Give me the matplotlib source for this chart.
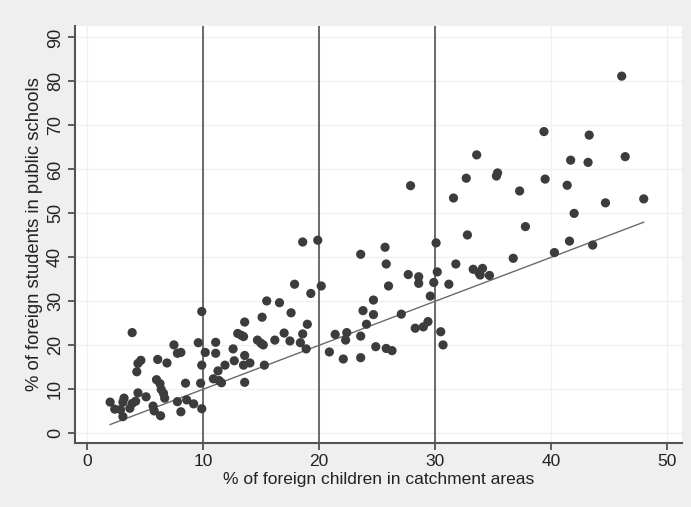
import numpy as np
import matplotlib
matplotlib.use("Agg")
import matplotlib.pyplot as plt

# % of foreign children in catchment areas
pct_children = [
    2.0, 2.4, 2.9, 3.2, 3.1, 3.1, 3.7, 3.9, 4.2, 4.4, 5.1, 3.9, 4.65, 4.4, 4.3,
    5.7, 5.8, 6.35, 6.1, 6.9, 6.0, 6.3, 6.4, 6.6, 6.7, 7.5, 7.8, 8.1, 7.8, 8.1,
    8.6, 9.2, 9.9, 8.5, 9.8, 9.6, 9.9, 9.9,
    10.2, 10.9, 11.4, 11.6, 11.1, 11.1, 11.3, 11.9, 12.6, 12.7, 13.0, 13.3, 13.5,
    13.6, 13.6, 14.05, 13.5, 13.6, 14.7, 15.0, 15.2,
    15.1, 15.5, 16.6, 15.3, 16.2, 17.0, 17.5, 17.6, 17.9, 18.4, 18.6, 18.9, 19.0,
    19.3, 18.6, 19.9,
    20.2, 20.9, 21.4, 22.1, 22.4, 22.3, 23.6, 23.6, 23.6, 23.8, 24.1, 24.7, 24.7,
    24.9, 25.7, 25.8, 26.0, 25.8, 26.3, 27.1, 27.7, 27.9, 28.3, 28.6, 28.6, 29.0,
    29.4, 29.6, 29.9,
    30.1, 30.2, 30.5, 30.7, 31.2, 31.6, 31.8, 32.7, 32.8, 33.6, 33.3, 33.8, 34.1,
    33.9, 34.7, 35.3, 35.4, 36.75, 37.3, 37.8, 39.4, 39.5,
    40.3, 41.4, 41.6, 41.7, 42.0, 43.2, 43.3, 43.6, 44.7, 46.1, 46.4, 48.0,
]
# % of foreign students in public schools
pct_students = [
    7.1, 5.5, 5.4, 8.0, 7.1, 3.8, 5.7, 6.8, 7.3, 9.2, 8.3, 22.9, 16.6, 15.9, 14.0,
    6.2, 5.1, 4.0, 16.8, 16.0, 12.2, 11.3, 10.0, 9.1, 8.0, 20.1, 18.2, 18.4, 7.2, 4.9,
    7.6, 6.7, 5.6, 11.4, 11.4, 20.6, 27.7, 15.5,
    18.4, 12.4, 12.0, 11.5, 20.7, 18.2, 14.2, 15.5, 19.2, 16.5, 22.7, 22.3, 22.0,
    25.3, 17.7, 16.0, 15.5, 11.6, 21.2, 20.5, 20.1,
    26.4, 30.1, 29.7, 15.5, 21.2, 22.8, 21.0, 27.4, 33.9, 20.6, 22.6, 19.2, 24.8,
    31.8, 43.5, 43.9,
    33.5, 18.5, 22.5, 16.9, 22.9, 21.2, 22.1, 17.2, 40.7, 27.9, 24.8, 30.3, 27.0,
    19.7, 42.3, 38.5, 33.5, 19.3, 18.8, 27.1, 36.1, 56.3, 23.9, 35.6, 34.1, 24.2,
    25.4, 31.2, 34.3,
    43.3, 36.7, 23.1, 20.1, 33.9, 53.5, 38.5, 58.0, 45.1, 63.3, 37.3, 36.5, 37.5,
    36.0, 35.9, 58.5, 59.2, 39.8, 55.1, 47.0, 68.6, 57.8,
    41.1, 56.4, 43.7, 62.1, 50.0, 61.6, 67.8, 42.8, 52.4, 81.2, 62.9, 53.3,
]
xref_lines = [10, 20, 30]
x_ticks = [0, 10, 20, 30, 40, 50]
y_ticks = [0, 10, 20, 30, 40, 50, 60, 70, 80, 90]

plt.rcParams['font.family'] = ['Liberation Sans', 'DejaVu Sans']

fig = plt.figure(figsize=(6.91, 5.07), dpi=100, facecolor='#efefef')
ax = fig.add_axes([0.1085, 0.1262, 0.8785, 0.8225])
ax.set_facecolor('white')

# faint grid
for t in y_ticks:
    ax.axhline(t, color='#f0f0f0', lw=1.0, zorder=0)
for t in x_ticks:
    ax.axvline(t, color='#f0f0f0', lw=1.0, zorder=0)

for v in xref_lines:
    ax.axvline(v, color='#6a6a6a', lw=1.4, zorder=1)

ax.scatter(pct_children, pct_students, s=44, color='#3c3c3c', edgecolors='none', zorder=3)

# 45 degree line over the data range
lo, hi = min(pct_children), max(pct_children)
ax.plot([lo, hi], [lo, hi], color='#6a6a6a', lw=1.0, zorder=2)

ax.set_xlim(-1.03, 51.3)
ax.set_ylim(-2.2, 92.6)
ax.set_xticks(x_ticks)
ax.set_yticks(y_ticks)
ax.set_yticklabels([str(t) for t in y_ticks], rotation=90, va='center')
ax.tick_params(axis='both', direction='out', length=5, width=1.2, color='#444444',
               labelcolor='#222222')
ax.tick_params(axis='x', labelsize=12.5, pad=3)
ax.tick_params(axis='y', labelsize=13, pad=3)

for side in ['top', 'right']:
    ax.spines[side].set_visible(False)
for side in ['left', 'bottom']:
    ax.spines[side].set_color('#555555')
    ax.spines[side].set_linewidth(1.5)

ax.set_xlabel('% of foreign children in catchment areas', fontsize=12.5, color='#222222', labelpad=2)
ax.set_ylabel('% of foreign students in public schools', fontsize=13.3, color='#222222', labelpad=3)

fig.savefig('out.png', dpi=100, facecolor=fig.get_facecolor())
